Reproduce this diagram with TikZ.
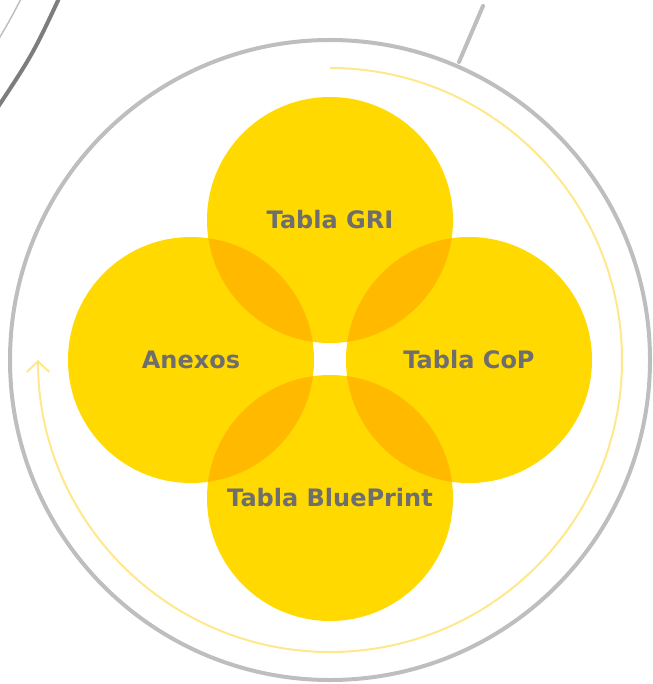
\documentclass[tikz,border=0pt]{standalone}
\usepackage{fontspec}
\setmainfont{DejaVu Sans}
\usetikzlibrary{arrows.meta}
\definecolor{petal}{RGB}{255,217,0}
\definecolor{petaldark}{RGB}{255,186,0}
\definecolor{labelgrey}{RGB}{110,110,110}
\definecolor{ringgrey}{RGB}{190,190,190}
\definecolor{darkgrey}{RGB}{125,125,125}
\definecolor{flowyellow}{RGB}{255,232,140}
\begin{document}
\begin{tikzpicture}[x=0.75pt, y=-0.75pt, petal_style/.style={circle,fill=petal,minimum size=184.5pt,inner sep=0pt,text=labelgrey,font=\fontsize{18}{21}\selectfont\bfseries},ring_style/.style={draw=ringgrey,line width=3pt},flow_style/.style={draw=flowyellow,line width=1.5pt}]
      \clip (0,0) rectangle (652,684);
      % outer rings
      \draw[ring_style] (330,360) circle[radius=320];
      \draw[ring_style, line cap=round] (459,62) -- (483,6);
      \draw[draw=darkgrey, line width=3pt] (-4,110) .. controls (33,54) .. (62,-8);
      \draw[draw=ringgrey, line width=1.1pt] (-3,42) .. controls (10,20) .. (23,-5);
      \draw[flow_style, -{Straight Barb[length=8pt,width=17pt]}] (330,68) arc[start angle=-90, end angle=180, radius=292];
      % petals
      \draw
        (330,220) node[petal_style] (gri){Tabla GRI}
        (191,360) node[petal_style] (anexos){Anexos}
        (469,360) node[petal_style] (cop){Tabla CoP}
        (330,498) node[petal_style] (blueprint){Tabla BluePrint};
      \begin{scope}
        \clip (gri.center) circle[radius=123];
        \fill[petaldark] (anexos.center) circle[radius=123];
        \fill[petaldark] (cop.center) circle[radius=123];
      \end{scope}
      \begin{scope}
        \clip (blueprint.center) circle[radius=123];
        \fill[petaldark] (anexos.center) circle[radius=123];
        \fill[petaldark] (cop.center) circle[radius=123];
      \end{scope}
    \end{tikzpicture}
\end{document}
